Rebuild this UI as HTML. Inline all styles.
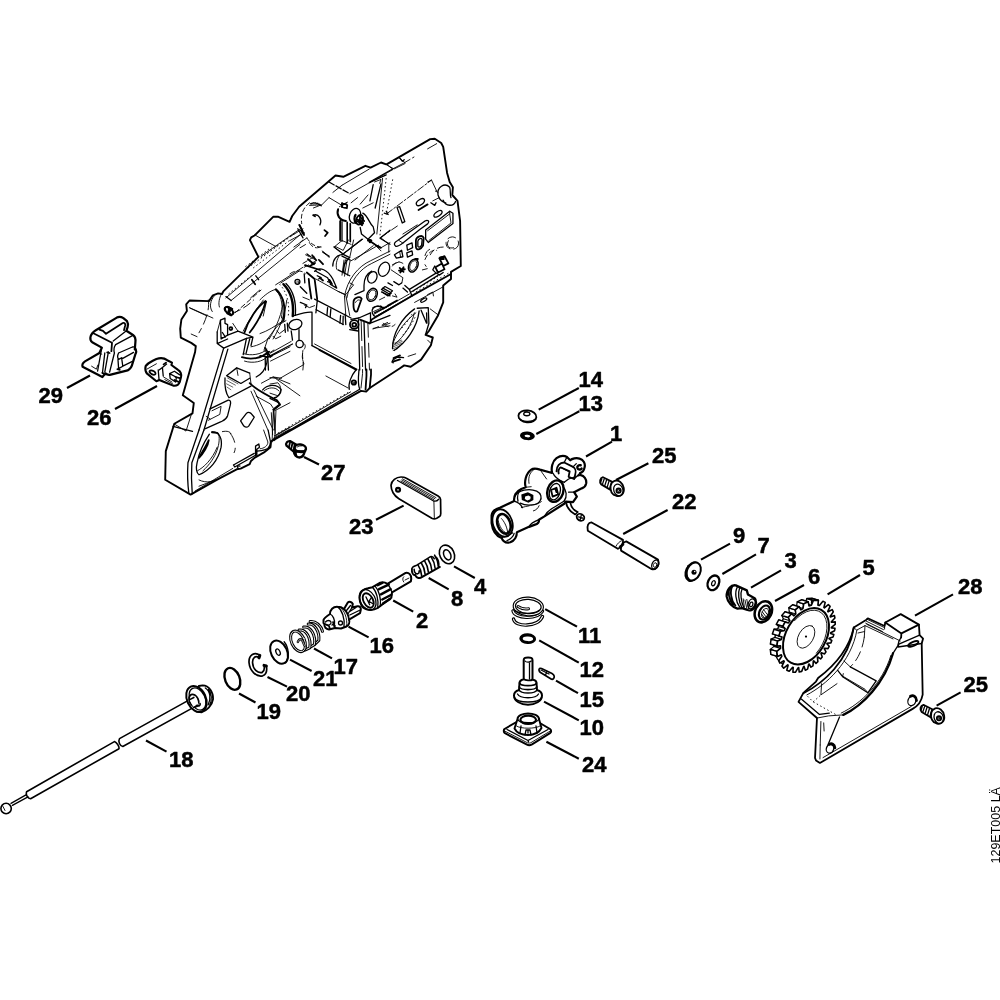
<!DOCTYPE html>
<html><head><meta charset="utf-8"><title>129ET005</title>
<style>
html,body{margin:0;padding:0;background:#fff;}
svg{display:block}
.lb{font-family:"Liberation Sans",sans-serif;font-weight:bold;font-size:22px;fill:#000;stroke:#000;stroke-width:0.5px;stroke-linejoin:round}
.ld{stroke:#000;stroke-width:2.1;fill:none;stroke-linecap:butt}
.k{stroke:#000;stroke-width:1.8;fill:none;stroke-linejoin:round;stroke-linecap:round}
.m{stroke:#000;stroke-width:1.3;fill:none;stroke-linejoin:round;stroke-linecap:round}
.t{stroke:#000;stroke-width:0.9;fill:none;stroke-linejoin:round;stroke-linecap:round}
.h{stroke:#000;stroke-width:0.6;fill:none;stroke-linejoin:round;stroke-linecap:round}
.k,.m,.t,.h,.d{vector-effect:non-scaling-stroke}
.d{stroke:#000;stroke-width:0.9;fill:none;stroke-dasharray:1.5 2.5}
.w{fill:#fff}
.b{fill:#000;stroke:none}
</style></head><body>
<svg width="1000" height="1000" viewBox="0 0 1000 1000">
<rect width="1000" height="1000" fill="#fff"/>
<!-- 10_case_outline.svg -->
<g>
<path class="k w" style="stroke-width:1.9" d="M189.5,300.5 L209.0,301.1 L212.9,295.3 L218.1,293.4 L222.0,294.0 L223.3,291.4 L258.4,256.9 L251.6,243.3 L249.9,240.1 L251.2,237.4 L254.5,235.5 L273.4,216.7 L277.9,216.7 L289.6,221.8 L292.2,216.0 L299.1,206.7 L335.5,175.5 L343.3,176.8 L365.4,165.8 L370.6,167.7 L381.0,162.5 L386.2,164.4 L386.6,164.4 L430.2,139.1 L434.8,138.8 L441.2,143.0 L443.2,146.9 L447.1,172.9 L449.7,182.0 L452.9,187.2 L452.3,195.0 L457.5,200.9 L460.1,221.0 L460.8,266.0 L451.0,271.9 L451.0,279.0 L443.2,285.5 L443.2,302.4 L438.0,315.4 L428.9,331.0 L425.6,334.9 L432.8,337.5 L430.9,345.3 L421.1,359.6 L410.7,366.8 L404.2,365.4 L400.0,368.2 L370.1,387.7 L366.2,391.6 L361.0,390.9 L271.1,441.4 L270.5,447.2 L264.0,452.4 L254.9,457.6 L251.0,460.9 L249.7,464.1 L240.6,468.6 L236.7,469.3 L217.2,479.7 L190.6,494.6 L165.2,479.7 L165.8,451.1 L174.3,423.8 L192.5,413.4 L193.8,403.0 L182.8,395.2 L195.1,352.0 L195.8,346.1 L191.2,342.9 L180.8,337.7 L180.2,328.6 L181.4,319.5 L186.9,310.9 L186.2,304.4 Z"/>
</g>

<!-- 11_case_T1.svg -->
<g transform="translate(170,190) scale(0.13)">
<path class="t" d="M660,350 L815,435"/>
<path class="t" d="M700,510 L1000,300"/>
<path class="t" d="M430,830 L1000,345"/>
<path class="t" d="M470,850 L1000,418"/>
<path class="d" d="M600,600 L900,375 M640,600 L930,380 M580,590 L780,440 M450,800 L630,655 M700,520 L960,335"/>
<path class="k" d="M630,690 L655,725"/>
<path class="m" d="M660,660 L682,690"/>
<path class="m" d="M430,820 L470,850"/>
<ellipse class="m" cx="438" cy="922" rx="17" ry="24" transform="rotate(-30 438 922)"/>
<path class="k" d="M450,900 L480,915 M440,950 L470,965"/>
<ellipse class="m" cx="470" cy="940" rx="15" ry="22" transform="rotate(-30 470 940)"/>
<path class="t" stroke-dasharray="5 3" d="M500,945 L700,770"/>
<path class="t" d="M340,815 C310,850 300,900 325,935 M395,800 C380,830 370,870 380,900"/>
<path class="t" d="M150,905 L330,985"/>
<path class="t" d="M620,830 L690,770"/>
</g>

<!-- 12_case_T2.svg -->
<g transform="translate(290,130) scale(0.13)">
<path class="m" stroke-dasharray="6 2" d="M300,400 L460,490"/>
<path class="t" d="M330,480 L400,425"/>
<path class="t" d="M400,425 L610,300 M460,490 L790,305"/>
<path class="t" d="M740,265 L800,300 L885,258"/>
<path class="m" d="M610,405 L740,345"/>
<path class="m" d="M640,420 L615,545 M700,415 L655,600"/>
<path class="t" d="M650,400 L700,380 L690,410"/>
<path class="d" d="M740,370 L690,830 M790,380 L740,650"/>
<path class="t" d="M712,372 L668,800"/>
<path class="m" d="M725,640 L755,650 L740,625"/>
<path class="k" d="M370,610 C355,650 380,695 430,700" style="stroke-width:2"/>
<path class="t" d="M380,590 L440,555 M300,520 L400,580 L440,560"/>
<ellipse class="m" cx="420" cy="585" rx="20" ry="14"/>
<ellipse class="m" cx="500" cy="660" rx="42" ry="58" transform="rotate(20 500 660)"/>
<ellipse class="k" cx="535" cy="690" rx="25" ry="38" transform="rotate(20 535 690)"/>
<path class="k" d="M520,690 L560,720 M530,660 L570,700"/>
<path class="m" d="M560,640 C600,660 610,720 640,745 L650,790 L600,840 L550,800 L540,750"/>
<path class="k" d="M600,845 L690,905"/>
<path class="k" d="M385,700 L385,850 M440,710 L440,870" style="stroke-width:1.6"/>
<path class="m" d="M465,720 L465,860 M400,705 L400,855"/>
<path class="t" d="M340,900 L400,850 L470,880 M340,900 L400,945"/>
<path class="m" d="M180,655 C220,640 250,690 230,730"/>
<path class="k" d="M265,770 L290,790 L270,815"/>
<path class="t" d="M150,580 L240,575 M180,600 L230,580 M300,520 L240,580"/>
<path class="t" stroke-dasharray="4 3" d="M150,560 C100,600 80,650 90,720 M130,830 C160,880 200,900 240,900"/>
<path class="t" d="M0,820 L100,760 M0,850 L110,790 M30,900 L130,830"/>
<path class="m" d="M70,730 L110,800 M60,760 L100,830"/>
<path class="t" d="M470,560 L520,520 M540,570 L600,500 M560,600 L640,560"/>
<path class="t" d="M700,830 L760,880 L760,940 M640,870 L700,930"/>
<path class="t" d="M400,960 L560,840 M500,1000 L640,890"/>
<path class="t" stroke-dasharray="4 3" d="M120,960 L200,1000 M250,930 L300,980"/>
</g>

<!-- 13_case_T3.svg -->
<g transform="translate(360,130) scale(0.13)">
<path class="t" d="M205,265 L250,300 L345,250 M300,215 L345,250"/>
<path class="m" d="M250,300 L75,400"/>
<path class="t" stroke-dasharray="6 3" d="M345,250 L415,208"/>
<path class="t" d="M520,145 L590,105"/>
<path class="m" d="M310,220 L325,240 L340,228"/>
<path class="t" stroke-dasharray="7 2 2 2" d="M205,645 L550,385 M160,825 L300,730"/>
<path class="t" d="M550,385 L590,470 M520,400 L545,388"/>
<path class="m" d="M285,595 L325,715 M305,590 L345,705 M325,715 L345,705 M285,595 L305,590"/>
<ellipse class="m" cx="465" cy="555" rx="36" ry="20" transform="rotate(-35 465 555)"/>
<path class="k" d="M450,615 L520,572"/>
<path class="m" d="M545,560 L575,580 L585,560"/>
<path class="m" d="M600,500 C590,440 650,400 690,440 M600,500 C610,540 640,560 660,560 M640,540 C660,590 720,590 735,550 M690,440 C700,470 690,500 700,520"/>
<path class="t" d="M610,520 L560,545 M580,470 L600,480"/>
<path class="m" d="M275,895 C255,880 265,862 290,850 L500,700 C520,688 540,700 520,722 L460,765 L330,870 C310,885 290,900 275,895 Z"/>
<path class="t" d="M330,800 L440,730 M300,850 L330,870"/>
<ellipse class="m" cx="600" cy="645" rx="36" ry="17" transform="rotate(-35 600 645)"/>
<path class="m" d="M505,770 L690,625 L715,640 L715,720 L525,865 L505,840 Z"/>
<path class="t" d="M520,775 L690,645 L700,715 L530,850 M690,625 L690,645"/>
<path class="k" d="M430,850 C432,822 478,800 490,830 L485,890 C470,920 432,930 430,900 Z"/>
<path class="m" d="M445,855 C450,835 475,825 478,845 L474,885 C462,905 445,905 445,890 Z"/>
<path class="m" d="M360,885 L400,868 L405,905 L365,925 Z M360,945 L400,930 L405,960 L365,978 Z"/>
<path class="m" d="M265,960 L320,925 L330,975 L280,985 Z"/>
<path class="t" d="M305,935 L312,975"/>
<circle class="t" stroke-dasharray="8 4" cx="710" cy="870" r="48"/>
<path class="t" stroke-dasharray="6 4" d="M540,960 C560,920 600,900 640,900"/>
<path class="b" d="M610,975 L650,965 L650,1000 L615,1000 Z M420,985 L450,985 L450,1000 L420,1000 Z"/>
</g>

<!-- 14_case_T4.svg -->
<g transform="translate(260,240) scale(0.13)">
<path class="t" d="M308,20 L330,0 M308,60 L350,35 M120,345 L330,210 M160,330 L300,240"/>

<path class="k" d="M122,380 C180,430 200,520 180,620" style="stroke-width:2.2"/>
<path class="k" d="M180,340 C240,400 262,480 252,585" style="stroke-width:2.4"/>
<path class="m" d="M200,335 C255,390 280,470 272,580"/>
<path class="d" d="M150,340 C210,400 232,500 215,600"/>
<path class="t" d="M0,600 L50,470 L25,585 M0,460 C40,420 80,390 120,380 M0,720 C60,700 120,660 180,620"/>
<path class="t" d="M130,395 C170,440 178,520 165,600 M60,760 C100,700 150,640 180,620"/>
<circle class="m" cx="288" cy="322" r="19"/>
<circle class="h" cx="290" cy="324" r="8"/>
<path class="m" d="M250,585 C300,570 350,550 400,555 L400,812"/>
<path class="k" d="M380,350 L395,450 M375,300 L380,350"/>
<path class="m" d="M340,260 L345,330 M310,480 L360,500 L350,520 M310,360 L360,410"/>
<path class="t" d="M330,440 L380,460 M340,500 L380,520 L420,505"/>
<path class="k" d="M360,250 L420,300 L440,455"/>
<path class="m" d="M420,455 L700,600 M440,470 L430,560 M430,535 L640,650"/>
<path class="t" d="M430,300 L600,395 L660,420 L720,345 L690,330 M600,395 L660,425 L690,580"/>
<path class="m" d="M520,520 L515,580 M545,530 L540,590 M620,580 L615,640 M640,585 L638,650 M655,570 L660,650"/>
<path class="m" d="M400,812 L745,995"/>
<path class="t" d="M420,800 L700,950"/>
<circle class="k" cx="725" cy="650" r="33"/>
<circle class="k" cx="725" cy="652" r="15"/>
<path class="m" d="M690,690 L755,700 M700,610 L760,600"/>
<path class="m" d="M757,612 L767,1000 M800,628 L812,1000"/>
<path class="t" stroke-dasharray="20 6" d="M778,620 L790,1000"/>
<path class="t" stroke-dasharray="14 6" d="M830,640 L842,1000"/>
<path class="m" d="M850,640 L1000,580 M760,600 L850,560 L850,640"/>
<path class="k" d="M720,470 C728,440 770,430 782,452 L748,548 C730,560 715,540 720,470 Z"/>
<path class="t" d="M735,480 C745,460 765,455 770,465"/>
<ellipse class="k" cx="862" cy="422" rx="38" ry="52" transform="rotate(25 862 422)" style="stroke-width:1.5"/>
<ellipse class="t" cx="862" cy="422" rx="27" ry="40" transform="rotate(25 862 422)"/>


<path class="t" d="M650,435 C670,300 760,200 850,160 L1000,85"/>
<path class="t" d="M668,445 C690,320 770,220 860,180 L1000,110 M660,580 L650,435"/>
<path class="m" d="M800,350 C800,300 820,260 860,240 M730,420 L800,390 L800,350"/>
<path class="m" d="M560,200 C560,150 590,112 640,110 M600,230 L690,275 M640,110 L690,135 C660,160 640,200 640,250"/>
<path class="t" d="M610,120 C590,150 580,190 590,225 M660,150 C645,180 640,220 650,255 M690,135 L720,0 M580,50 L640,80 L680,0"/>
<path class="m" d="M420,240 C460,200 520,230 560,300 L590,370 L540,340 M430,240 L520,290 L545,340"/>
<path class="t" stroke-dasharray="5 3" d="M380,20 C400,60 440,70 470,50 M330,180 L430,120 M340,210 L450,150 M480,90 L530,130 M230,260 C270,230 320,230 350,260"/>
<path class="m" d="M440,275 L470,290 L450,300 M520,320 L550,330 L535,305"/>
<ellipse class="m" cx="272" cy="650" rx="52" ry="38" transform="rotate(-20 272 650)"/>
<path class="m" d="M210,640 L215,700 M190,650 L195,710 M240,700 L250,770 M300,690 L300,770"/>
<circle class="m" cx="305" cy="800" r="28"/>
<path class="t" d="M330,790 C350,800 355,820 340,840 M100,740 L120,760 L160,740 M130,700 L150,720 L190,690"/>
<path class="t" stroke-dasharray="8 4" d="M330,850 C320,900 340,940 330,1000 M200,620 L150,650"/>
<path class="m" d="M0,890 L60,900 L250,800 M60,900 L65,1000 M40,900 L42,1000"/>
<path class="t" d="M80,870 L240,780 M60,760 L30,850 L70,880"/>
<path class="k" d="M40,830 L80,900 M55,880 L70,860"/>
<path class="m" d="M945,370 L1000,400 M935,400 L1000,430 M870,520 C900,500 930,510 950,530 M880,560 L1000,500 M890,590 L1000,530"/>
<path class="t" d="M940,660 L1000,640 M870,680 L1000,660"/>
<path class="k" d="M830,5 L850,0 M905,45 L930,60"/>
<path class="t" d="M700,160 L910,40 M930,60 L1000,20"/>
</g>

<!-- 15_case_T5.svg -->
<g transform="translate(360,240) scale(0.13)">
<path class="k" d="M395,432 L700,262"/>
<path class="m" d="M380,380 L585,255 M397,398 L600,272"/>
<path class="d" d="M410,395 L600,280 M430,400 L690,250"/>
<path class="m" d="M345,350 L380,380 L400,430 M330,370 L365,400"/>
<path class="k" d="M580,210 L600,250 L650,225 L630,180 Z M610,140 L650,125 L680,180 L640,200 Z"/>
<path class="m" d="M590,255 L610,270 L640,250 M575,200 L560,230 L585,255"/>
<ellipse class="m" cx="185" cy="225" rx="40" ry="57" transform="rotate(25 185 225)"/>
<ellipse class="m" cx="95" cy="287" rx="34" ry="46" transform="rotate(25 95 287)"/>
<ellipse class="k" cx="410" cy="197" rx="34" ry="52" transform="rotate(25 410 197)" style="stroke-width:1.5"/>
<ellipse class="t" cx="410" cy="197" rx="24" ry="40" transform="rotate(25 410 197)"/>



<path class="k" d="M305,215 L335,245 M335,210 L310,250 M300,235 L345,225"/>
<path class="t" d="M240,230 L330,290 L322,330 M250,190 L300,168"/>
<path class="t" stroke-dasharray="5 3" d="M250,200 C270,170 300,160 330,180 M500,150 C520,100 560,70 590,80 M480,230 L520,220 L500,190"/>
<path class="m" d="M165,380 L192,358 L250,390 L225,415 Z M170,400 L215,430 L240,410"/>
<path class="m" d="M215,330 L250,350 M260,320 L300,345 L320,330"/>
<path class="t" d="M150,460 L190,440 M250,430 L285,440 L270,415"/>
<path class="k" d="M160,510 C180,530 200,520 215,505 L285,465"/>
<path class="m" d="M100,525 C85,545 95,580 120,590 M120,590 L390,435 M100,525 C130,500 150,510 160,512"/>
<path class="t" d="M110,570 L380,415 M105,550 L160,525"/>
<path class="k" d="M0,612 L75,642 L90,612 L395,432"/>


<path class="t" stroke-dasharray="6 4" d="M100,685 L240,622 M180,640 C200,670 240,680 270,650"/>
<path class="m" d="M250,835 C250,720 320,600 420,530"/>
<path class="m" d="M262,850 C350,790 440,680 455,545"/>
<path class="t" d="M270,800 C340,740 400,650 418,560 M255,790 C290,700 350,620 430,560"/>
<path class="h" d="M250,800 L320,770 M250,812 L325,780 M250,824 L320,795 M252,838 L310,812 M255,850 L290,835"/>
<path class="d" d="M300,700 C340,660 380,610 400,570 M330,730 C370,690 410,630 430,580"/>
<path class="m" d="M440,525 L525,520 L530,640 L505,725 M470,540 L512,640 M512,560 L515,640"/>
<path class="t" d="M540,530 L600,575 M420,480 L640,360"/>
<ellipse class="m" cx="490" cy="462" rx="26" ry="11" transform="rotate(-30 490 462)"/>
<path class="t" d="M520,420 L560,400 L565,430"/>
<path class="m" d="M250,925 L290,900 L335,905 M250,925 L255,945"/>
<path class="t" stroke-dasharray="8 5" d="M370,895 L440,872 M520,770 L540,790"/>
<path class="t" d="M680,5 C660,40 680,70 720,60"/>
<path class="t" stroke-dasharray="8 5" d="M500,120 C510,80 540,60 570,70"/>
</g>

<!-- 16_case_T6.svg -->
<g transform="translate(160,300) scale(0.13)">
<path class="m" d="M490,370 L300,1000 M522,378 L338,1000"/>
<path class="m" d="M440,245 L440,335 L490,370 L665,295 L715,285 L700,350 M520,270 L600,240 L715,285 M440,335 L520,300"/>
<path class="m" d="M465,155 L500,140 L500,180 L520,190 L520,270 L470,300 Z M480,250 L503,285 L478,290"/>
<path class="t" d="M440,245 L465,155 M560,180 L600,240"/>
<path class="m" d="M665,295 L640,420 M690,300 L662,410"/>
<ellipse class="k" cx="520" cy="75" rx="17" ry="24" transform="rotate(-30 520 75)"/>
<ellipse class="k" cx="545" cy="92" rx="15" ry="22" transform="rotate(-30 545 92)"/>
<path class="k" d="M530,55 L555,70 M520,100 L540,112"/>
<circle class="k" cx="545" cy="220" r="11"/>
<path class="k" d="M650,250 C680,150 750,50 812,8 C800,80 740,190 690,250"/>
<path class="t" d="M640,240 C690,140 750,60 795,0"/>
<path class="t" d="M840,300 C900,200 940,100 950,0 M870,300 C925,210 965,100 975,0"/>
<path class="t" stroke-dasharray="8 4" d="M560,100 C620,80 680,40 720,0"/>
<path class="k" d="M630,440 C700,462 780,450 832,400"/>
<path class="t" d="M640,412 C700,432 780,420 822,380 M650,470 C720,492 790,472 822,440 M700,360 C760,350 810,320 840,290"/>
<path class="m" d="M832,400 L822,480 C812,530 780,572 740,592"/>
<path class="k" d="M820,440 L860,430"/>
<path class="t" d="M860,430 L1000,360 M850,470 L1000,395"/>
<path class="m" d="M512,582 L590,522 L690,562 M512,582 L622,642 L690,602 M500,600 C495,680 510,722 530,752 L700,662"/>
<path class="h" d="M520,600 L600,645 M515,620 L580,655 M512,645 L560,670 M515,670 L545,690"/>
<path class="t" d="M690,562 L700,645 M590,522 L600,580"/>
<path class="t" d="M780,640 L870,592 L1000,645 M870,592 L935,602"/>
<path class="m" d="M790,692 C820,650 900,640 932,690 C932,720 900,752 880,752"/>
<path class="t" d="M800,700 C830,670 890,665 915,700"/>
<path class="k" d="M690,640 C730,682 800,722 900,772 L922,802 L872,842"/>
<path class="t" d="M700,702 L830,1000 M722,692 L872,1000 M740,740 L850,800 L870,830"/>
<path class="m" d="M385,837 L525,770 C545,768 546,790 540,810 L520,890 C510,920 490,926 470,936 L350,990"/>
<path class="t" d="M400,852 L470,818 L460,880 L372,925 M355,895 L385,915"/>
<path class="m" d="M620,930 L665,872 C675,862 690,865 700,872 L725,902 L682,970 C672,980 655,978 645,970 Z"/>
<path class="t" d="M872,842 L882,1000 M1000,790 L882,852"/>
<path class="t" d="M230,62 L360,122 M240,262 L285,282"/>
<path class="t" stroke-dasharray="10 5" d="M372,0 C382,60 360,150 300,252"/>
<path class="m" d="M100,972 L250,1010"/>
</g>

<!-- 17_case_T7.svg -->
<g transform="translate(160,390) scale(0.13)">
<path class="t" d="M110,262 L200,316 L240,192"/>
<path class="m" d="M300,308 L215,560 C210,640 212,720 222,795 M338,308 L245,560 C240,640 242,720 248,798"/>
<path class="t" d="M270,777 L560,603 M300,740 L430,690"/>
<path class="m" d="M565,577 L725,487 M575,592 L735,502 M565,577 L575,592"/>
<path class="m" d="M832,308 L850,400 C850,440 820,462 780,466 L745,470"/>
<path class="t" d="M797,308 L830,400 C830,430 800,450 770,452"/>
<path class="m" d="M735,432 L760,415 L765,440 L745,455 L745,500 L735,505 Z"/>
<path class="m" d="M400,322 C460,320 480,380 470,440 C450,540 380,622 300,652 C280,640 275,600 285,560 C300,480 340,400 380,340"/>
<path class="k" d="M375,385 C350,440 320,482 300,522 C332,490 370,430 375,385 Z"/>
<path class="t" d="M450,332 C470,400 440,522 330,622 M300,692 C360,722 420,702 452,680 M290,620 C330,600 400,540 440,440"/>
<path class="t" stroke-dasharray="10 6" d="M540,332 C590,400 582,460 570,482 M480,320 C520,312 540,322 545,335"/>
<path class="k" d="M400,325 L440,330"/>
<path class="t" d="M872,150 L862,400 M892,160 L882,390"/>
<path class="t" d="M872,372 L1000,300 M880,352 L1000,285"/>
<path class="m" d="M600,600 C590,590 600,580 615,585"/>
</g>

<!-- 18_case_T8.svg -->
<g transform="translate(270,350) scale(0.13)">
<path class="m" d="M20,692 L690,302"/>
<path class="t" d="M40,662 L620,322"/>
<path class="d" d="M60,640 L600,327"/>
<path class="m" d="M685,150 C680,200 672,260 690,302"/>
<path class="t" d="M712,150 L712,180 L700,292"/>
<path class="k" d="M742,150 L742,200 L735,305 M777,150 L777,190 L767,292"/>
<path class="m" d="M662,152 C622,200 600,262 610,302"/>
<circle class="k" cx="645" cy="250" r="17"/>
<circle class="t" cx="647" cy="252" r="7"/>
<path class="k" d="M380,0 L662,152"/>
<path class="t" d="M430,200 L600,292"/>
<path class="t" d="M70,222 L260,112 M0,212 L40,217 L230,352"/>
<path class="t" stroke-dasharray="10 6" d="M250,30 C240,80 270,100 260,132"/>
<path class="t" d="M0,262 L60,252 C90,282 90,322 60,352 L0,332"/>
<path class="m" d="M0,372 L60,402 L80,422 L30,462"/>
<path class="t" d="M30,462 L40,642 M10,482 L20,652"/>
<path class="k" d="M950,62 L1000,42 M940,92 L1000,72"/>
<path class="t" d="M0,20 L30,0 M0,50 L70,10"/>
</g>

<!-- 19_case_T9.svg -->
<g transform="translate(290,190) scale(0.1)">
<path class="m" d="M205,138 C240,120 280,130 312,158"/>
<path class="h" d="M215,150 L235,125 M235,150 L255,125 M255,152 L275,128 M275,158 L292,138"/>
<path class="k" d="M232,252 L250,262"/>
<path class="k" d="M95,350 L125,410 M110,405 L140,450"/>
<path class="m" d="M520,132 L575,150 L570,185 L520,170 Z"/>
<path class="k" d="M520,132 L520,170"/>
<path class="t" d="M505,300 L505,500 M600,335 L600,515"/>
<path class="m" d="M440,570 L530,640 L720,492"/>
<path class="k" d="M655,250 C640,270 640,310 660,330 M700,300 L730,330 M690,320 L720,350" style="stroke-width:2.2"/>
<path class="k" d="M790,500 L812,505 L800,522 Z" style="stroke-width:2.2"/>
<path class="m" d="M900,482 L1000,402 M900,482 L1000,542"/>
<path class="k" d="M180,692 L240,742 M222,652 L262,702 M292,702 L330,742 M150,752 L300,800 M200,760 L250,730"/>
<path class="m" d="M330,622 L392,662 M170,640 L210,670"/>
<path class="t" d="M540,700 L520,852 M570,702 L545,862 M600,712 L575,852"/>
<path class="m" d="M520,662 L602,702"/>
<path class="k" d="M300,880 L330,905 M390,900 L420,940"/>
</g>

<!-- 20_p29_p26.svg -->
<g transform="translate(70,305) scale(0.12)">
<path class="k w" style="stroke-width:2.2" d="M170,270 C175,240 190,225 215,210 L390,105 C410,95 430,100 445,110 L475,135 C485,150 485,165 480,185 L470,215 L525,250 C545,265 548,285 545,310 L540,370 C555,375 555,395 545,410 L520,490 C515,520 500,535 480,545 L340,580 C320,585 305,580 295,570 L270,600 L105,515 C100,500 110,480 125,470 L245,400 L265,355 L185,310 C172,300 168,285 170,270 Z"/>
<path class="k" d="M245,205 L275,215 L300,240 L440,150 C455,145 462,155 460,170 L450,210"/>
<path class="k" d="M195,235 L350,315 L345,385"/>
<path class="m" d="M360,300 L470,215 M380,330 L520,255"/>
<path class="m" d="M380,330 C365,350 365,380 370,400 L330,560"/>
<path class="m" d="M405,400 L520,350 C540,345 552,355 550,375 M405,400 C395,420 395,440 405,452"/>
<path class="m" d="M400,455 L430,440 L440,510 L405,530 Z M440,445 L530,395 M440,510 L520,470 M430,440 L440,445"/>
<path class="m" d="M265,355 L230,550 M290,400 L270,570 M320,390 L290,560"/>
<path class="t" d="M180,510 L220,535 L232,500 M245,400 L265,410"/>
<path class="k" d="M270,565 L290,580 M395,535 L415,540 M310,395 L330,400"/>
<path class="k w" style="stroke-width:2.1" d="M630,510 C640,495 660,480 690,465 L720,450 C750,440 790,445 810,460 L850,480 L845,500 L900,540 C925,555 930,575 925,600 L915,640 C905,665 880,675 860,672 L780,640 L745,625 L720,635 L640,570 C630,555 625,530 630,510 Z"/>
<ellipse class="k" cx="688" cy="563" rx="27" ry="15" transform="rotate(28 688 563)"/>
<path class="m" d="M735,540 L742,622 M745,540 L770,520 L805,492 M770,520 L777,592"/>
<path class="m" d="M830,572 L870,552 L915,582 M830,572 L835,612 L880,642 L887,602 L830,572"/>
<path class="t" d="M780,600 L850,642 M790,622 L855,657 M640,535 L720,490"/>
<path class="k" d="M780,495 L800,480 M880,600 L915,610 M870,625 L905,640"/>
</g>

<!-- 30_p1.svg -->
<g transform="translate(485,435) scale(0.11)">
<path class="k w" style="stroke-width:2.2" d="M60,730 C65,690 100,670 140,660 L265,600 C260,560 280,510 330,490 L370,475 C355,430 370,350 420,315 C440,300 470,305 500,315 L610,345 C600,300 610,240 650,210 C680,190 720,185 745,200 L775,230 C790,215 830,205 860,215 C895,225 915,260 905,295 C900,320 885,340 865,345 L870,365 C900,370 925,400 920,440 C915,465 900,480 880,485 L810,520 L835,560 L800,610 L735,605 L720,625 L540,740 L490,770 C495,790 480,810 455,815 L400,835 L290,885 C290,920 270,960 230,975 C195,985 165,970 150,935 C110,920 70,880 60,800 Z"/>
<ellipse class="k" cx="160" cy="800" rx="88" ry="128" transform="rotate(-18 160 800)"/>
<ellipse class="k" cx="172" cy="808" rx="58" ry="92" transform="rotate(-18 172 808)" style="stroke-width:2.6"/>
<path class="t" d="M150,760 C170,780 200,830 205,880 M120,780 C130,830 160,880 200,895"/>
<path class="m" d="M265,600 C300,610 330,640 340,660 M330,490 C300,520 290,560 300,600"/>
<path class="m" d="M270,560 C300,500 400,480 470,510 C510,530 520,570 500,600 C480,640 380,650 320,620"/>
<path class="b" d="M330,540 L390,520 L440,545 L440,590 L395,615 L335,590 Z"/>
<path class="w" d="M365,560 L395,550 L415,562 L412,585 L385,595 L362,582 Z"/>
<path class="t" d="M400,440 C390,380 410,332 450,312 M500,315 L560,400 M370,475 L420,470"/>
<ellipse class="k" cx="640" cy="510" rx="72" ry="100" transform="rotate(18 640 510)" style="stroke-width:2.4"/>
<ellipse class="m" cx="635" cy="515" rx="48" ry="76" transform="rotate(18 635 515)"/>
<path class="k" d="M600,500 L650,480 L665,540 L615,560 Z M640,490 L650,520"/>
<path class="k" d="M650,330 C650,280 680,250 720,250 L800,290 C820,300 830,330 820,360 L810,400 L760,380 L770,330 L690,295 C670,300 665,330 670,350"/>
<path class="m" d="M690,295 L760,330 M720,250 L745,200 M800,290 L830,260"/>
<path class="k" d="M870,275 C850,270 835,285 840,300 C845,318 870,318 878,305" style="stroke-width:2.4"/>
<path class="m" d="M720,430 L760,400 L870,365 M760,520 L810,520 M710,470 C740,500 750,560 720,600 M810,400 L865,345"/>
<path class="m" d="M620,350 C640,400 700,420 720,430 M540,740 C560,700 600,670 640,650 L720,600"/>
<path class="k" d="M735,605 C740,650 770,695 820,722 M775,612 C782,650 800,682 842,700"/>
<ellipse class="k" cx="868" cy="748" rx="36" ry="30" transform="rotate(30 868 748)"/>
<path class="m" d="M850,745 L890,755 M875,730 L865,770 M820,722 L842,700"/>
<path class="m" d="M150,935 C180,925 220,905 250,890 M200,960 C230,950 260,920 265,895"/>
<path class="m" d="M400,835 C410,810 440,790 490,770"/>
<path class="t" stroke-dasharray="8 5" d="M330,660 C400,640 470,640 520,600 M440,690 C480,680 500,640 500,600"/>
</g>

<!-- 31_p13_14_25.svg -->
<g transform="translate(510,395) scale(0.12)">
<ellipse class="k w" cx="145" cy="178" rx="75" ry="50" transform="rotate(5 145 178)"/>
<ellipse class="m" cx="140" cy="158" rx="26" ry="15"/>
<path class="m" d="M75,195 C100,225 180,230 215,200"/>
<path class="t" d="M120,140 L150,135"/>
<ellipse class="b" cx="145" cy="340" rx="62" ry="36" transform="rotate(5 145 340)"/>
<ellipse class="w" cx="145" cy="342" rx="24" ry="11" transform="rotate(5 145 342)"/>
<path class="k w" d="M775,685 C750,690 742,725 760,745 L845,795 L865,730 Z"/>
<path class="m" d="M785,700 L770,745 M805,708 L790,755 M825,718 L810,768 M845,728 L830,780 M765,700 L755,730"/>
<path class="k w" d="M850,730 L872,715 C905,705 940,730 948,775 C955,820 925,850 890,842 L862,830 C835,810 830,760 850,730 Z"/>
<ellipse class="m" cx="903" cy="792" rx="38" ry="50" transform="rotate(-20 903 792)"/>
<circle class="k" cx="905" cy="797" r="18"/>
<circle class="t" cx="905" cy="797" r="8"/>
</g>

<!-- 32_p22.svg -->
<g transform="translate(580,500) scale(0.12)">
<path class="k w" d="M97,187 C70,185 55,215 65,257 L315,407 C340,400 365,360 358,332 Z"/>
<path class="k w" d="M385,345 C355,350 335,395 342,422 L598,577 C630,587 667,545 650,497 Z"/>
<path class="b" d="M322,385 L355,360 L372,372 L340,400 Z"/>
<ellipse class="m" cx="627" cy="538" rx="27" ry="40" transform="rotate(25 627 538)"/>
<ellipse class="t" cx="625" cy="542" rx="14" ry="20" transform="rotate(25 625 542)"/>
<path class="t" d="M300,385 C310,365 330,345 345,340"/>
</g>

<!-- 33_p9_7_3_6.svg -->
<g transform="translate(670,540) scale(0.12)">
<ellipse class="k w" cx="189" cy="265" rx="56" ry="80" transform="rotate(25 189 265)" style="stroke-width:2"/>
<ellipse class="k w" cx="197" cy="262" rx="55" ry="79" transform="rotate(25 197 262)" style="stroke-width:2"/>
<path class="m" d="M150,215 C130,260 135,310 165,335"/>
<circle class="b" cx="200" cy="268" r="21"/>
<circle class="w" cx="206" cy="262" r="6"/>
<ellipse class="k w" cx="362" cy="357" rx="46" ry="64" transform="rotate(25 362 357)" style="stroke-width:2.3"/>
<ellipse class="m" cx="362" cy="360" rx="14" ry="22" transform="rotate(25 362 360)"/>
<path class="k w" d="M472,470 C470,410 510,372 548,378 L640,420 L650,455 L705,485 C722,500 722,540 700,567 C685,587 660,592 645,582 L600,567 L562,572 C520,560 480,520 472,470 Z" style="stroke-width:2.3"/>
<path class="k" d="M520,385 C498,420 505,500 545,547 M500,395 C480,430 490,500 525,540"/>
<path class="m" d="M560,395 C540,430 545,510 580,557 M600,410 C585,440 590,510 615,562 M580,400 C565,440 570,510 598,560"/>
<path class="t" d="M625,500 L640,570 M640,495 L655,575 M610,490 L620,560"/>
<ellipse class="m" cx="680" cy="532" rx="28" ry="42" transform="rotate(20 680 532)"/>
<ellipse class="m" cx="677" cy="537" rx="13" ry="20" transform="rotate(20 677 537)"/>
<ellipse class="k w" cx="778" cy="598" rx="68" ry="92" transform="rotate(25 778 598)" style="stroke-width:2.5"/>
<ellipse class="k" cx="787" cy="605" rx="42" ry="62" transform="rotate(25 787 605)" style="stroke-width:2.2"/>
<ellipse class="t" cx="792" cy="610" rx="26" ry="42" transform="rotate(25 792 610)"/>
<path class="t" d="M770,600 L800,640 M765,620 L790,655 M780,580 L810,620"/>
</g>

<!-- 34_gear.svg -->
<g>
<path class="m w" d="M816.5,604.9 L817.5,605.5 L818.4,606.2 L819.3,606.9 L820.1,607.8 L820.9,608.7 L821.6,609.7 L822.2,610.8 L822.8,611.9 L823.3,613.1 L823.7,614.3 L824.1,615.6 L824.5,616.9 L824.7,618.3 L824.9,619.8 L825.0,621.3 L825.0,622.8 L825.0,624.3 L824.9,625.9 L824.7,627.5 L824.5,629.1 L824.2,630.7 L823.8,632.4 L823.4,634.0 L822.9,635.7 L822.3,637.3 L821.7,638.9 L821.0,640.6 L820.2,642.2 L819.4,643.7 L818.6,645.3 L817.6,646.8 L816.7,648.3 L815.7,649.8 L814.6,651.2 L813.5,652.5 L812.4,653.9 L811.2,655.1 L810.0,656.3 L808.8,657.5 L807.5,658.5 L806.2,659.6 L804.9,660.5 L803.6,661.4 L802.3,662.2 L801.0,662.9 L799.6,663.5 L798.3,664.1 L796.9,664.6 L795.6,665.0 L794.3,665.3 L793.0,665.5 L791.7,665.7 L790.5,665.7 L789.2,665.7 L788.0,665.6 L786.8,665.4 L785.7,665.1 L784.6,664.7 L783.5,664.3 L782.5,663.7 L781.5,663.1 L780.6,662.4 L779.7,661.7 L778.9,660.8 L778.1,659.9 L777.4,658.9 L776.8,657.8 L776.2,656.7 L775.7,655.5 L775.3,654.3 L774.9,653.0 L774.5,651.7 L774.3,650.3 L774.1,648.8 L774.0,647.3 L774.0,645.8 L774.0,644.3 L774.1,642.7 L774.3,641.1 L774.5,639.5 L774.8,637.9 L775.2,636.2 L775.6,634.6 L776.1,632.9 L776.7,631.3 L777.3,629.7 L778.0,628.0 L778.8,626.4 L779.6,624.9 L780.4,623.3 L781.4,621.8 L782.3,620.3 L783.3,618.8 L784.4,617.4 L785.5,616.1 L786.6,614.7 L787.8,613.5 L789.0,612.3 L790.2,611.1 L791.5,610.1 L792.8,609.0 L794.1,608.1 L795.4,607.2 L796.7,606.4 L798.0,605.7 L799.4,605.1 L800.7,604.5 L802.1,604.0 L803.4,603.6 L804.7,603.3 L806.0,603.1 L807.3,602.9 L808.5,602.9 L809.8,602.9 L811.0,603.0 L812.2,603.2 L813.3,603.5 L814.4,603.9 L815.5,604.3 Z"/>
<path class="m w" d="M781.3,654.8 L777.4,656.4 L770.9,654.4 L774.8,652.8 Z M780.5,648.4 L776.8,651.4 L770.3,649.4 L774.0,646.4 Z M780.5,645.9 L776.9,646.0 L770.4,644.0 L774.0,643.9 Z M781.4,639.4 L777.6,641.1 L771.1,639.1 L774.9,637.4 Z M782.0,637.0 L778.9,635.9 L772.4,633.9 L775.5,635.0 Z M784.2,630.8 L780.5,631.2 L774.0,629.2 L777.7,628.8 Z M785.2,628.5 L782.8,626.3 L776.3,624.3 L778.7,626.5 Z M788.4,622.9 L785.2,621.9 L778.7,619.9 L781.9,620.9 Z M789.9,620.8 L788.3,617.5 L781.8,615.5 L783.4,618.8 Z M794.0,615.8 L791.5,613.7 L785.0,611.7 L787.5,613.8 Z M795.8,614.0 L795.3,609.9 L788.8,607.9 L789.3,612.0 Z M800.9,609.9 L799.1,606.7 L792.6,604.7 L794.4,607.9 Z M803.0,608.5 L803.7,603.9 L797.2,601.9 L796.5,606.5 Z M809.0,605.9 L808.2,601.8 L801.7,599.8 L802.5,603.9 Z M811.4,605.3 L813.4,600.5 L806.9,598.5 L804.9,603.3 Z M817.9,605.1 L818.4,600.3 L811.9,598.3 L811.4,603.1 Z" style="stroke-width:1.2"/>
<path class="k w" d="M777.4,656.4 L776.8,651.4 L770.3,649.4 L770.9,654.4 Z M776.9,646.0 L777.6,641.1 L771.1,639.1 L770.4,644.0 Z M778.9,635.9 L780.5,631.2 L774.0,629.2 L772.4,633.9 Z M782.8,626.3 L785.2,621.9 L778.7,619.9 L776.3,624.3 Z M788.3,617.5 L791.5,613.7 L785.0,611.7 L781.8,615.5 Z M795.3,609.9 L799.1,606.7 L792.6,604.7 L788.8,607.9 Z M803.7,603.9 L808.2,601.8 L801.7,599.8 L797.2,601.9 Z M813.4,600.5 L818.4,600.3 L811.9,598.3 L806.9,598.5 Z" style="stroke-width:1.5"/>
<path class="k w" d="M819.4,605.4 L822.9,601.3 L825.2,602.4 L823.9,607.4 L824.4,607.8 L828.3,604.6 L830.1,606.4 L827.8,611.4 L828.1,611.8 L832.2,609.6 L833.3,611.9 L830.3,616.3 L830.4,616.9 L834.4,615.5 L834.9,618.0 L831.4,621.8 L831.4,622.3 L835.2,621.9 L835.2,624.4 L831.4,627.3 L831.4,627.9 L835.0,628.2 L834.6,630.7 L830.7,632.8 L830.6,633.4 L833.8,634.5 L833.1,636.9 L829.2,638.2 L829.0,638.7 L831.8,640.5 L830.9,642.9 L827.1,643.3 L826.9,643.8 L829.2,646.3 L828.0,648.6 L824.5,648.2 L824.2,648.7 L826.0,651.8 L824.6,653.9 L821.4,652.8 L821.0,653.3 L822.2,657.0 L820.6,658.9 L817.8,657.0 L817.4,657.4 L817.9,661.6 L816.0,663.4 L813.7,660.8 L813.3,661.1 L813.0,665.8 L810.9,667.2 L809.1,664.0 L808.7,664.3 L807.6,669.1 L805.3,670.2 L804.1,666.4 L803.6,666.5 L801.7,671.4 L799.2,672.0 L798.7,667.6 L798.2,667.7 L795.4,672.3 L792.9,672.2 L793.2,667.4 L792.7,667.2 L789.2,671.3 L786.8,670.3 L788.1,665.2 L787.7,664.9 L783.7,668.1 L782.0,666.2 L784.2,661.3 L783.9,660.8 L779.8,663.1 L778.8,660.8 L781.8,656.3 L781.3,654.8 L777.4,656.4 L776.8,651.4 L780.5,648.4 L780.5,645.9 L776.9,646.0 L777.6,641.1 L781.4,639.4 L782.0,637.0 L778.9,635.9 L780.5,631.2 L784.2,630.8 L785.2,628.5 L782.8,626.3 L785.2,621.9 L788.4,622.9 L789.9,620.8 L788.3,617.5 L791.5,613.7 L794.0,615.8 L795.8,614.0 L795.3,609.9 L799.1,606.7 L800.9,609.9 L803.0,608.5 L803.7,603.9 L808.2,601.8 L809.0,605.9 L811.4,605.3 L813.4,600.5 L818.4,600.3 L817.9,605.1 Z" style="stroke-width:1.6"/>
<ellipse class="k w" cx="806.0" cy="636.3" rx="30.5" ry="19.9" transform="rotate(-60 806.0 636.3)" style="stroke-width:2"/>
<path class="t" d="M794.5,620.7 A29,18.4 -60 0 1 816.4,653.1"/>
<ellipse class="t" cx="806.0" cy="636.8" rx="12.4" ry="7.4" transform="rotate(-60 806.0 636.8)"/>
<circle class="b" cx="806.0" cy="636.6" r="1.1"/>
</g>

<!-- 35_p28.svg -->
<g transform="translate(795,605) scale(0.14)">
<path class="k w" d="M755,65 L885,140 L890,215 L915,240 L905,275 L912,640 C905,680 880,720 840,742 L178,1128 L150,1110 L143,1093 L157,807 L25,692 L60,628 L150,547 L165,522 C300,420 390,300 420,160 L510,105 L520,95 L640,150 L645,125 Z"/>
<path class="k" d="M60,630 C200,560 385,400 420,160"/>
<path class="t" d="M85,642 C220,572 402,410 442,180"/>
<path class="k" d="M700,345 C640,560 480,722 345,785" style="stroke-width:2.3"/>
<path class="t" d="M345,785 L240,792 L160,807"/>
<path class="t" d="M685,360 C625,560 470,705 330,772"/>
<path class="m" d="M700,345 L742,280 L890,215 M742,280 L735,300 L905,275"/>
<path class="k" d="M645,125 L760,203 L885,140 M760,203 L758,232"/>
<path class="m" d="M758,232 C745,250 738,268 736,284"/>
<path class="t" d="M513,138 L752,257 M640,150 L640,172"/>
<ellipse class="k" cx="845" cy="278" rx="40" ry="14" transform="rotate(-25 845 278)"/>
<ellipse class="m" cx="835" cy="684" rx="28" ry="36" transform="rotate(20 835 684)"/>
<path class="k" d="M825,652 C845,640 868,655 868,682" style="stroke-width:2.8"/>
<path class="m" d="M318,800 L235,1000"/>
<path class="t" d="M420,160 L440,180 L500,147 L700,242 M515,102 L640,162 M510,116 L632,176 M505,130 L625,190"/>
<path class="t" d="M500,147 L495,230 M450,200 L495,190"/>
<path class="t" stroke-dasharray="10 5" d="M495,230 C480,330 440,400 395,442"/>
<path class="m" d="M305,467 L340,512 L520,627 L580,542 L395,442"/>
<path class="t" d="M340,512 L345,490 M520,627 L500,602 L330,502 M350,400 L395,442"/>
<path class="t" d="M190,562 L185,642 L300,562"/>
<path class="d" d="M90,652 L130,692 L290,782 M130,692 L185,642"/>
<path class="m" d="M45,672 L175,782 L245,772"/>
<path class="t" d="M185,832 L180,1000 M205,842 L208,900"/>
<ellipse class="m" cx="250" cy="1027" rx="26" ry="32" transform="rotate(20 250 1027)"/>
<path class="k" d="M245,995 C262,985 282,995 285,1020" style="stroke-width:2.8"/>
<path class="t" d="M180,1000 L178,1100 M200,1090 L830,725"/>
</g>
<g transform="translate(830.4,622.6) scale(0.12)">
<path class="k w" d="M775,685 C750,690 742,725 760,745 L845,795 L865,730 Z"/>
<path class="m" d="M785,700 L770,745 M805,708 L790,755 M825,718 L810,768 M845,728 L830,780 M765,700 L755,730"/>
<path class="k w" d="M850,730 L872,715 C905,705 940,730 948,775 C955,820 925,850 890,842 L862,830 C835,810 830,760 850,730 Z"/>
<ellipse class="m" cx="903" cy="792" rx="38" ry="50" transform="rotate(-20 903 792)"/>
<circle class="k" cx="905" cy="797" r="18"/>
<circle class="t" cx="905" cy="797" r="8"/>
</g>

<!-- 40_p4_8_2.svg -->
<g transform="translate(340,530) scale(0.13)">
<ellipse class="k w" cx="823" cy="188" rx="55" ry="75" transform="rotate(-25 823 188)" style="stroke-width:1.6"/>
<ellipse class="k" cx="825" cy="191" rx="26" ry="41" transform="rotate(-25 825 191)" style="stroke-width:1.5"/>
<g transform="translate(461.5,76.9) scale(0.53846)">
<path class="k" d="M215,500 C240,548 285,555 312,530 L570,385" style="stroke-width:2"/>
<path class="k" d="M170,415 C170,385 200,375 230,365 L430,240 C460,230 480,245 490,268" style="stroke-width:1.5"/>
<path class="k" d="M170,415 C165,462 190,512 215,500" style="stroke-width:1.8"/>
<path class="k" d="M255,352 C285,397 305,457 310,512 M303,325 C333,370 353,430 358,485 M351,298 C381,343 401,403 406,458 M399,271 C429,316 449,376 454,431 M447,244 C477,289 497,349 502,404 M495,217 C525,262 545,322 550,377" style="stroke-width:1.6"/>
<path class="k" d="M520,250 C545,280 556,330 550,372" style="stroke-width:1.8"/>
<path class="k" d="M202,420 C200,470 240,500 270,472 L275,440" style="stroke-width:1.6"/>
</g>
<path class="k w" d="M150,520 C150,480 180,450 215,448 L250,440 L310,405 C330,400 350,405 365,415 L505,330 C530,325 550,345 548,375 L545,395 L400,480 L395,520 L290,600 C250,625 190,620 165,580 C155,560 150,540 150,520 Z" style="stroke-width:2"/>
<ellipse class="m" cx="213" cy="537" rx="58" ry="84" transform="rotate(-28 213 537)"/>
<ellipse class="k" cx="217" cy="542" rx="36" ry="60" transform="rotate(-28 217 542)" style="stroke-width:1.9"/>
<path class="m" d="M200,515 L228,575 M225,545 L240,522 M222,548 L250,565"/>
<path class="m" d="M250,440 C280,470 300,540 290,600 M270,432 C300,465 318,530 310,585"/>
<path class="k" d="M290,425 L325,408 M300,455 L375,420 M315,495 L390,455 M325,535 L395,498 M330,565 L385,530" style="stroke-width:2.4"/>
<path class="m" d="M365,415 C385,435 395,460 400,480"/>
<path class="t" d="M490,400 C480,385 480,370 490,360 M500,385 L530,370"/>
</g>

<!-- 41_p16_17_21_20_19.svg -->
<g transform="translate(300,580) scale(0.1)">
<path class="k w" d="M235,400 C240,380 270,360 300,340 C300,300 330,265 375,268 C400,268 425,278 440,290 L478,225 C495,210 520,222 528,240 L520,275 L575,262 C595,258 612,275 608,298 L600,332 L490,397 C500,420 490,450 465,465 L410,485 L350,480 L290,495 C260,490 240,470 245,445 L235,430 Z" style="stroke-width:2"/>
<path class="m" d="M375,268 C420,300 450,380 440,470"/>
<path class="t" d="M400,272 C445,305 475,380 467,462"/>
<path class="k" d="M440,290 C470,320 488,365 490,397"/>
<path class="m" d="M520,275 L482,335 M465,305 L505,255 M498,350 L602,300 M490,320 L560,275"/>
<circle class="m" cx="405" cy="430" r="20"/>
<path class="m" d="M300,340 C330,350 350,400 345,440 M255,420 C270,400 300,400 310,420 C315,440 290,455 270,450 M320,450 C330,440 350,445 352,460"/>
<path class="k" d="M250,440 L290,460 L300,490 M330,420 L345,470"/>
</g>
<g transform="translate(225,590) scale(0.13)">
<ellipse class="k" cx="57" cy="685" rx="56" ry="88" transform="rotate(-22 53 685)" style="stroke-width:2.4"/>
<path class="k" d="M268,503 C230,470 180,500 185,560 C190,620 240,672 290,660 C315,650 325,620 318,585" style="stroke-width:1.7"/>
<path class="k" d="M262,522 C235,500 210,520 212,560 C215,610 250,642 285,635 C300,625 305,600 300,580" style="stroke-width:1.7"/>
<path class="k" d="M268,503 L262,522 M318,585 L300,580" style="stroke-width:3"/>
<ellipse class="k w" cx="416" cy="478" rx="62" ry="94" transform="rotate(-25 416 478)" style="stroke-width:2"/>
<path class="m" d="M455,398 C490,440 500,520 465,560"/>
<ellipse class="m" cx="408" cy="478" rx="15" ry="26" transform="rotate(-25 408 478)"/>
<path class="k" d="M655,242 C700,236 742,278 750,318" style="stroke-width:3"/>
<path class="k" d="M655,242 C700,236 742,278 750,318" style="stroke-width:0.9;stroke:#fff"/>
<path class="k" d="M640,262 C690,255 728,320 722,388 L690,418" style="stroke-width:3"/>
<path class="k" d="M640,262 C690,255 728,320 722,388 L690,418" style="stroke-width:0.9;stroke:#fff"/>
<path class="k" d="M605,285 C660,275 700,350 688,420 L655,440" style="stroke-width:3"/>
<path class="k" d="M605,285 C660,275 700,350 688,420 L655,440" style="stroke-width:0.9;stroke:#fff"/>
<path class="k" d="M570,308 C625,298 665,372 652,445 L615,462" style="stroke-width:3"/>
<path class="k" d="M570,308 C625,298 665,372 652,445 L615,462" style="stroke-width:0.9;stroke:#fff"/>
<ellipse class="k" cx="562" cy="395" rx="50" ry="84" transform="rotate(-25 562 395)" style="stroke-width:3"/>
<ellipse class="k" cx="562" cy="395" rx="50" ry="84" transform="rotate(-25 562 395)" style="stroke-width:0.9;stroke:#fff"/>
<path class="k" d="M560,400 C572,372 590,372 600,400 L612,430" style="stroke-width:2.3"/>
<path class="k" d="M560,400 C572,372 590,372 600,400 L612,430" style="stroke-width:0.6;stroke:#fff"/>
</g>

<!-- 42_p18.svg -->
<g>
<path class="k w" d="M26.6,791.7 L114.4,741.6 C116.5,742.5 119.5,746 119,748.7 L30.6,798.8 C28,798.5 25.5,795 26.6,791.7 Z" style="stroke-width:1.6"/>
<path class="k w" d="M119.5,738.6 L189.7,699.6 L193.6,707.4 L122.8,746.5 C120,746 117.8,741.5 119.5,738.6 Z" style="stroke-width:1.6"/>
<path class="m" d="M11,803.4 L26,794.9 M12.4,805.4 L28,796.9"/>
<circle class="k w" cx="6.1" cy="808.5" r="5.2" style="stroke-width:1.6"/>
<path class="t" d="M3,806.5 L5,810.5"/>
</g>
<g transform="translate(100,660) scale(0.13)">
<path class="k w" d="M790,195 C840,195 872,250 870,300 C862,352 820,392 780,402 L740,395 L760,200 Z" style="stroke-width:1.8"/>
<path class="m" d="M810,215 C850,240 855,300 832,345 M835,225 C862,260 860,310 845,345"/>
<ellipse class="k w" cx="742" cy="300" rx="72" ry="105" transform="rotate(-25 742 300)" style="stroke-width:2"/>
<ellipse class="m" cx="750" cy="300" rx="58" ry="90" transform="rotate(-25 750 300)"/>
<ellipse class="k w" cx="722" cy="312" rx="34" ry="50" transform="rotate(-25 722 312)" style="stroke-width:1.8"/>
<path class="k w" d="M690,305 L735,280 L760,345 L720,365 Z" style="stroke:none"/>
<path class="k" d="M690,305 L722,288 M720,365 L752,348 M740,350 C760,360 775,350 770,335" style="stroke-width:1.6"/>
</g>

<!-- 43_p11_12.svg -->
<g transform="translate(495,585) scale(0.10)">
<g>
<path class="k" d="M185,340 C200,425 430,425 475,315" style="stroke-width:3.4"/>
<path class="k" d="M185,340 C200,425 430,425 475,315" style="stroke-width:1.1;stroke:#fff"/>
<path class="k" d="M180,258 C195,340 420,350 475,262" style="stroke-width:3.4"/>
<path class="k" d="M180,258 C195,340 420,350 475,262" style="stroke-width:1.1;stroke:#fff"/>
<ellipse class="k" cx="333" cy="215" rx="140" ry="82" style="stroke-width:3.4" transform="rotate(4 333 215)"/>
<ellipse class="k" cx="333" cy="215" rx="140" ry="82" style="stroke-width:1.1;stroke:#fff" transform="rotate(4 333 215)"/>
<path class="k" d="M230,215 C260,235 300,245 335,238" style="stroke-width:3"/>
<path class="k" d="M230,215 C260,235 300,245 335,238" style="stroke-width:1;stroke:#fff"/>
<path class="m" d="M200,255 C250,290 380,295 440,255"/>
</g>
<ellipse class="b" cx="327" cy="537" rx="84" ry="54" transform="rotate(3 327 537)"/>
<ellipse class="w" cx="329" cy="538" rx="52" ry="23" transform="rotate(3 329 538)"/>
</g>

<!-- 44_p10_15_24.svg -->
<g transform="translate(495,650) scale(0.10)">
<path class="k w" d="M287,100 C287,68 375,68 375,100 L375,295 C400,300 415,315 415,330 L420,400 C450,410 470,430 470,455 C470,512 400,547 330,547 C260,547 190,512 190,455 C190,430 210,410 240,400 L245,330 C245,312 265,298 287,292 Z" style="stroke-width:2"/>
<path class="m" d="M300,110 C310,125 350,125 362,110 M345,120 L345,290"/>
<path class="k" d="M245,330 C260,365 400,365 415,330 M287,292 C300,305 360,310 375,295"/>
<path class="k" d="M242,370 C260,405 400,405 418,370 M240,400 C260,440 400,440 420,400" style="stroke-width:1.6"/>
<path class="m" d="M225,440 C250,490 410,490 435,440"/>
<path class="k" d="M195,475 C220,535 440,535 465,475" style="stroke-width:1.5"/>
<path class="k w" d="M445,185 C435,195 440,215 455,225 L565,292 C580,297 595,282 592,262 C590,250 580,240 570,235 L465,185 C458,182 450,182 445,185 Z" style="stroke-width:1.7"/>
<path class="m" d="M520,215 L505,250 M460,200 L540,240"/>
<path class="k w" d="M95,790 C85,800 85,822 100,832 L320,947 C335,954 355,952 370,944 L550,832 C565,822 565,800 550,790 L440,725 L215,720 Z" style="stroke-width:2"/>
<path class="m" d="M120,795 L330,905 L530,795 M330,905 L335,920"/>
<path class="t" d="M100,812 L325,928 C335,932 350,932 360,926 L550,812"/>
<path class="k w" d="M225,690 C225,655 280,635 330,635 C385,635 440,655 440,690 L465,780 C440,830 380,850 330,850 C270,850 215,825 195,785 Z" style="stroke-width:1.9"/>
<ellipse class="k" cx="332" cy="698" rx="78" ry="42" style="stroke-width:2.1"/>
<path class="m" d="M225,690 C240,740 420,740 440,690"/>
<path class="m" d="M300,850 L310,800 L350,800 L360,850 M330,800 L330,830 M260,760 L250,830 M410,760 L420,830"/>
<path class="t" d="M215,760 C250,790 410,790 450,760"/>
</g>

<!-- 45_p23_27.svg -->
<g transform="translate(380,470) scale(0.07)">
<path class="k w" d="M300,100 C230,100 165,150 158,215 C155,290 200,370 270,410 L740,690 C760,700 790,700 810,690 L850,665 C865,655 868,640 868,620 L865,420 C862,395 850,385 830,372 L370,115 C350,103 325,100 300,100 Z" style="stroke-width:1.7"/>
<path class="t" d="M322,126 L800,395 M312,142 L785,410 M300,158 L770,425"/>
<path class="m" d="M250,150 L760,440 C790,452 820,440 838,418"/>
<path class="t" d="M770,442 L776,682"/>
<circle class="k" cx="258" cy="282" r="28" style="stroke-width:2.2"/>
<path class="k" d="M240,262 C260,250 282,262 286,285"/>
</g>
<g transform="translate(270,425) scale(0.06)">
<path class="k w" d="M340,270 C290,260 255,300 275,345 L400,450 L440,330 Z" style="stroke-width:2.2"/>
<path class="k" d="M335,285 L315,372 M375,300 L352,405 M412,320 L392,435" style="stroke-width:1.8"/>
<path class="b" d="M385,430 C395,500 440,545 490,545 C470,520 445,480 450,440 Z"/>
<path class="k w" d="M400,440 C400,500 440,542 490,542 C540,537 570,500 575,440 Z" style="stroke-width:2.4"/>
<path class="b" d="M392,435 C398,500 440,545 485,545 C455,520 440,480 448,440 Z"/>
<ellipse class="k w" cx="505" cy="387" rx="95" ry="62" transform="rotate(8 505 387)" style="stroke-width:2.4"/>
<path class="k" d="M420,435 L585,440" style="stroke-width:2.2"/>
<path class="t" d="M450,370 C470,350 500,345 520,350"/>
</g>

<!-- 90_labels.svg -->
<g class="lb" style="opacity:0.999">
<text transform="translate(38.5,403.1) scale(1,1)">29</text>
<text transform="translate(87.0,425.1) scale(1,1)">26</text>
<text transform="translate(321.0,479.6) scale(1,1)">27</text>
<text transform="translate(349.0,533.6) scale(1,1)">23</text>
<text transform="translate(578.5,387.1) scale(1,1)">14</text>
<text transform="translate(578.5,410.6) scale(1,1)">13</text>
<text transform="translate(610.0,440.6) scale(1,1)">1</text>
<text transform="translate(652.0,463.1) scale(1,1)">25</text>
<text transform="translate(672.0,509.1) scale(1,1)">22</text>
<text transform="translate(733.0,543.1) scale(1,1)">9</text>
<text transform="translate(757.5,553.1) scale(1,1)">7</text>
<text transform="translate(784.5,568.1) scale(1,1)">3</text>
<text transform="translate(808.0,584.1) scale(1,1)">6</text>
<text transform="translate(862.5,574.6) scale(1,1)">5</text>
<text transform="translate(958.0,593.6) scale(1,1)">28</text>
<text transform="translate(963.5,691.6) scale(1,1)">25</text>
<text transform="translate(474.0,593.6) scale(1,1)">4</text>
<text transform="translate(451.0,605.6) scale(1,1)">8</text>
<text transform="translate(416.0,627.6) scale(1,1)">2</text>
<text transform="translate(369.5,653.1) scale(1,1)">16</text>
<text transform="translate(333.5,674.1) scale(1,1)">17</text>
<text transform="translate(313.0,685.6) scale(1,1)">21</text>
<text transform="translate(286.0,701.1) scale(1,1)">20</text>
<text transform="translate(256.5,718.6) scale(1,1)">19</text>
<text transform="translate(169.0,766.6) scale(1,1)">18</text>
<text transform="translate(578.0,642.6) scale(1,1)">11</text>
<text transform="translate(579.5,677.1) scale(1,1)">12</text>
<text transform="translate(579.5,707.1) scale(1,1)">15</text>
<text transform="translate(579.5,734.6) scale(1,1)">10</text>
<text transform="translate(582.0,772.1) scale(1,1)">24</text>
<text transform="translate(999.5,863.5) rotate(-90)" style="font-weight:normal;font-size:12.5px;stroke:none">129ET005 LÄ</text>
</g>
<g class="ld">
<path d="M67,388 L90,375.5"/>
<path d="M115,409 L157,386"/>
<path d="M304,457 L319,464.5"/>
<path d="M376,519.7 L403.6,505.6"/>
<path d="M538.7,409.7 L578.8,388"/>
<path d="M536.3,434 L579.3,411.3"/>
<path d="M586,456.5 L612,441.6"/>
<path d="M616,480 L648.4,463.2"/>
<path d="M623.2,534 L667.6,510"/>
<path d="M701,559.6 L730,543.6"/>
<path d="M722.4,574 L756,554.4"/>
<path d="M751,587.6 L781,570.4"/>
<path d="M775,601 L804,585"/>
<path d="M827.6,594.4 L860,575"/>
<path d="M915,615.6 L953,594.4"/>
<path d="M936.6,705.6 L960.6,692.4"/>
<path d="M454,566.4 L474.8,578"/>
<path d="M428.7,578 L448.7,589.3"/>
<path d="M393.2,600.5 L413.2,611.7"/>
<path d="M348.5,626.6 L368.6,637.4"/>
<path d="M314,648.5 L332,658.4"/>
<path d="M290,659.6 L311.6,671"/>
<path d="M267.5,677 L287,686.6"/>
<path d="M239,693.5 L255.5,702.5"/>
<path d="M146,740.5 L166.5,751.6"/>
<path d="M545.2,609.2 L577,626.7"/>
<path d="M539.2,640.4 L578.8,662.7"/>
<path d="M556,680.7 L578,693.2"/>
<path d="M544,701.6 L578.8,720.3"/>
<path d="M546.4,741.7 L578.8,758.7"/>
</g>

</svg>
</body></html>
